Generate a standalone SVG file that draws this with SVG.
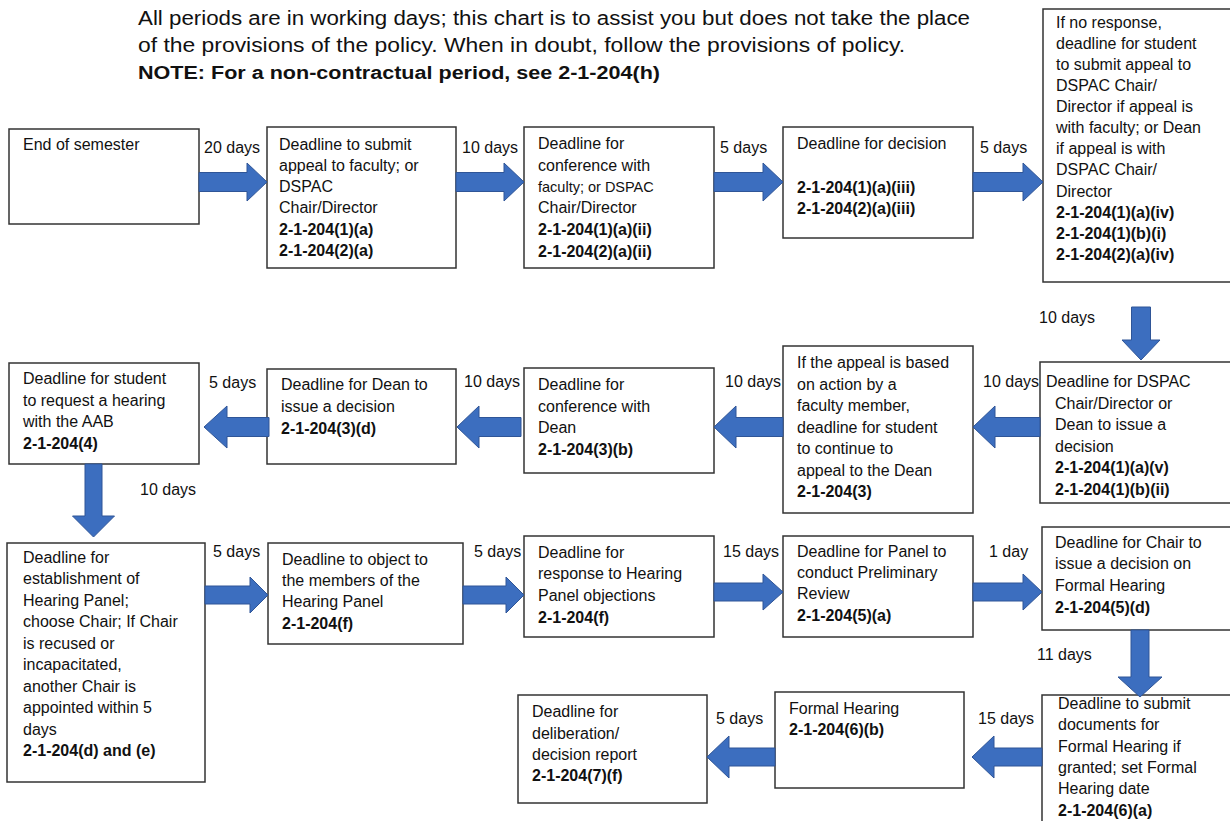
<svg xmlns="http://www.w3.org/2000/svg" width="1230" height="821" viewBox="0 0 1230 821">
<style>
.bg{fill:#fff}
.box{fill:#fff;stroke:#333;stroke-width:1.5}
.t{font-family:"Liberation Sans",Arial,sans-serif;font-size:16px;fill:#111}
.b{font-weight:bold}
.s{font-size:14.5px}
.h{font-family:"Liberation Sans",Arial,sans-serif;font-size:20px;fill:#111}
.arr{fill:#3C6EBF;stroke:#2F5597;stroke-width:1}
</style>
<rect class="bg" x="0" y="0" width="1230" height="821"/>
<g id="header">
<text class="h" x="138" y="25" textLength="832" lengthAdjust="spacingAndGlyphs">All periods are in working days; this chart is to assist you but does not take the place</text>
<text class="h" x="138" y="52" textLength="767" lengthAdjust="spacingAndGlyphs">of the provisions of the policy. When in doubt, follow the provisions of policy.</text>
<text class="h b" x="138" y="79" style="font-size:18px" textLength="522" lengthAdjust="spacingAndGlyphs">NOTE: For a non-contractual period, see 2-1-204(h)</text>
</g>
<g id="n1"><rect class="box" x="9" y="129" width="190" height="95"/>
<text class="t" x="23" y="150">End of semester</text></g>
<g id="n2"><rect class="box" x="267" y="127" width="189" height="141"/>
<text class="t" x="279"><tspan x="279" y="150">Deadline to submit</tspan><tspan x="279" y="171">appeal to faculty; or</tspan><tspan x="279" y="192">DSPAC</tspan><tspan x="279" y="213">Chair/Director</tspan><tspan x="279" y="235" class="b">2-1-204(1)(a)</tspan><tspan x="279" y="256" class="b">2-1-204(2)(a)</tspan></text></g>
<g id="n3"><rect class="box" x="524" y="127" width="190" height="141"/>
<text class="t" x="538"><tspan x="538" y="149">Deadline for</tspan><tspan x="538" y="171">conference with</tspan><tspan x="538" y="192" class="s">faculty; or DSPAC</tspan><tspan x="538" y="213">Chair/Director</tspan><tspan x="538" y="235" class="b">2-1-204(1)(a)(ii)</tspan><tspan x="538" y="257" class="b">2-1-204(2)(a)(ii)</tspan></text></g>
<g id="n4"><rect class="box" x="783" y="127" width="190" height="111"/>
<text class="t" x="797"><tspan x="797" y="149">Deadline for decision</tspan><tspan x="797" y="193" class="b">2-1-204(1)(a)(iii)</tspan><tspan x="797" y="214" class="b">2-1-204(2)(a)(iii)</tspan></text></g>
<g id="n5"><rect class="box" x="1043" y="9" width="195" height="273"/>
<text class="t" x="1056"><tspan x="1056" y="28">If no response,</tspan><tspan x="1056" y="49">deadline for student</tspan><tspan x="1056" y="70">to submit appeal to</tspan><tspan x="1056" y="91">DSPAC Chair/</tspan><tspan x="1056" y="112">Director if appeal is</tspan><tspan x="1056" y="133">with faculty; or Dean</tspan><tspan x="1056" y="154">if appeal is with</tspan><tspan x="1056" y="175">DSPAC Chair/</tspan><tspan x="1056" y="197">Director</tspan><tspan x="1056" y="218" class="b">2-1-204(1)(a)(iv)</tspan><tspan x="1056" y="239" class="b">2-1-204(1)(b)(i)</tspan><tspan x="1056" y="260" class="b">2-1-204(2)(a)(iv)</tspan></text></g>
<g id="n6"><rect class="box" x="1040" y="362" width="198" height="141"/>
<text class="t"><tspan x="1046" y="387">Deadline for DSPAC</tspan><tspan x="1055" y="409">Chair/Director or</tspan><tspan x="1055" y="430">Dean to issue a</tspan><tspan x="1055" y="452">decision</tspan><tspan x="1055" y="473" class="b">2-1-204(1)(a)(v)</tspan><tspan x="1055" y="495" class="b">2-1-204(1)(b)(ii)</tspan></text></g>
<g id="n7"><rect class="box" x="783" y="346" width="190" height="167"/>
<text class="t"><tspan x="797" y="368">If the appeal is based</tspan><tspan x="797" y="390">on action by a</tspan><tspan x="797" y="411">faculty member,</tspan><tspan x="797" y="433">deadline for student</tspan><tspan x="797" y="454">to continue to</tspan><tspan x="797" y="476">appeal to the Dean</tspan><tspan x="797" y="497" class="b">2-1-204(3)</tspan></text></g>
<g id="n8"><rect class="box" x="524" y="368" width="190" height="105"/>
<text class="t"><tspan x="538" y="390">Deadline for</tspan><tspan x="538" y="412">conference with</tspan><tspan x="538" y="433">Dean</tspan><tspan x="538" y="455" class="b">2-1-204(3)(b)</tspan></text></g>
<g id="n9"><rect class="box" x="267" y="369" width="189" height="95"/>
<text class="t"><tspan x="281" y="390">Deadline for Dean to</tspan><tspan x="281" y="412">issue a decision</tspan><tspan x="281" y="434" class="b">2-1-204(3)(d)</tspan></text></g>
<g id="n10"><rect class="box" x="9" y="363" width="190" height="101"/>
<text class="t"><tspan x="23" y="384">Deadline for student</tspan><tspan x="23" y="406">to request a hearing</tspan><tspan x="23" y="427">with the AAB</tspan><tspan x="23" y="449" class="b">2-1-204(4)</tspan></text></g>
<g id="n11"><rect class="box" x="7" y="543" width="198" height="239"/>
<text class="t"><tspan x="23" y="563">Deadline for</tspan><tspan x="23" y="584">establishment of</tspan><tspan x="23" y="606">Hearing Panel;</tspan><tspan x="23" y="627">choose Chair; If Chair</tspan><tspan x="23" y="649">is recused or</tspan><tspan x="23" y="670">incapacitated,</tspan><tspan x="23" y="692">another Chair is</tspan><tspan x="23" y="713">appointed within 5</tspan><tspan x="23" y="735">days</tspan><tspan x="23" y="756" class="b">2-1-204(d) and (e)</tspan></text></g>
<g id="n12"><rect class="box" x="268" y="543" width="195" height="101"/>
<text class="t"><tspan x="282" y="565">Deadline to object to</tspan><tspan x="282" y="586">the members of the</tspan><tspan x="282" y="607">Hearing Panel</tspan><tspan x="282" y="629" class="b">2-1-204(f)</tspan></text></g>
<g id="n13"><rect class="box" x="524" y="536" width="190" height="101"/>
<text class="t"><tspan x="538" y="558">Deadline for</tspan><tspan x="538" y="579">response to Hearing</tspan><tspan x="538" y="601">Panel objections</tspan><tspan x="538" y="623" class="b">2-1-204(f)</tspan></text></g>
<g id="n14"><rect class="box" x="783" y="536" width="190" height="101"/>
<text class="t"><tspan x="797" y="557">Deadline for Panel to</tspan><tspan x="797" y="578">conduct Preliminary</tspan><tspan x="797" y="599">Review</tspan><tspan x="797" y="621" class="b">2-1-204(5)(a)</tspan></text></g>
<g id="n15"><rect class="box" x="1042" y="527" width="196" height="103"/>
<text class="t"><tspan x="1055" y="548">Deadline for Chair to</tspan><tspan x="1055" y="569">issue a decision on</tspan><tspan x="1055" y="591">Formal Hearing</tspan><tspan x="1055" y="613" class="b">2-1-204(5)(d)</tspan></text></g>
<g id="n16"><rect class="box" x="1042" y="695" width="196" height="135"/>
<text class="t"><tspan x="1058" y="709">Deadline to submit</tspan><tspan x="1058" y="730">documents for</tspan><tspan x="1058" y="752">Formal Hearing if</tspan><tspan x="1058" y="773">granted; set Formal</tspan><tspan x="1058" y="794">Hearing date</tspan><tspan x="1058" y="816" class="b">2-1-204(6)(a)</tspan></text></g>
<g id="n17"><rect class="box" x="775" y="692" width="189" height="96"/>
<text class="t"><tspan x="789" y="714">Formal Hearing</tspan><tspan x="789" y="735" class="b">2-1-204(6)(b)</tspan></text></g>
<g id="n18"><rect class="box" x="518" y="695" width="189" height="108"/>
<text class="t"><tspan x="532" y="717">Deadline for</tspan><tspan x="532" y="739">deliberation/</tspan><tspan x="532" y="760">decision report</tspan><tspan x="532" y="781" class="b">2-1-204(7)(f)</tspan></text></g>
<g id="connectors">
<polygon class="arr" points="199,172.5 247,172.5 247,163 267,182 247,201 247,191.5 199,191.5"/>
<polygon class="arr" points="456,172.5 504,172.5 504,163 524,182 504,201 504,191.5 456,191.5"/>
<polygon class="arr" points="714,172.5 763,172.5 763,163 783,182 763,201 763,191.5 714,191.5"/>
<polygon class="arr" points="973,172.5 1023,172.5 1023,163 1043,182 1023,201 1023,191.5 973,191.5"/>
<polygon class="arr" points="1131.5,307 1150.5,307 1150.5,340 1160,340 1141,360 1122,340 1131.5,340"/>
<polygon class="arr" points="1040,417.5 995,417.5 995,406 973,427 995,448 995,436.5 1040,436.5"/>
<polygon class="arr" points="783,417.5 736,417.5 736,406 714,427 736,448 736,436.5 783,436.5"/>
<polygon class="arr" points="521,417.5 479,417.5 479,406 457,427 479,448 479,436.5 521,436.5"/>
<polygon class="arr" points="269,417.5 227,417.5 227,406 204,427 227,448 227,436.5 269,436.5"/>
<polygon class="arr" points="85,464 102,464 102,516 114.5,516 93.5,537 72.5,516 85,516"/>
<polygon class="arr" points="205,586 250,586 250,577 268,595 250,613 250,604 205,604"/>
<polygon class="arr" points="463,586 506,586 506,577 524,595 506,613 506,604 463,604"/>
<polygon class="arr" points="714,583 763,583 763,574 783,592 763,610 763,601 714,601"/>
<polygon class="arr" points="973,583 1023,583 1023,574 1042,592 1023,610 1023,601 973,601"/>
<polygon class="arr" points="1131,630 1149,630 1149,677 1162,677 1140,697 1118,677 1131,677"/>
<polygon class="arr" points="1042,748 994,748 994,736 972,757 994,778 994,766 1042,766"/>
<polygon class="arr" points="775,748 729,748 729,736 707,757 729,778 729,766 775,766"/>
<g class="t">
<text x="204" y="153">20 days</text>
<text x="462" y="153">10 days</text>
<text x="720" y="153">5 days</text>
<text x="980" y="153">5 days</text>
<text x="1039" y="323">10 days</text>
<text x="983" y="387">10 days</text>
<text x="725" y="387">10 days</text>
<text x="464" y="387">10 days</text>
<text x="209" y="388">5 days</text>
<text x="140" y="495">10 days</text>
<text x="213" y="557">5 days</text>
<text x="474" y="557">5 days</text>
<text x="723" y="557">15 days</text>
<text x="989" y="557">1 day</text>
<text x="1037" y="660">11 days</text>
<text x="978" y="724">15 days</text>
<text x="716" y="724">5 days</text>
</g>
</g>
</svg>
